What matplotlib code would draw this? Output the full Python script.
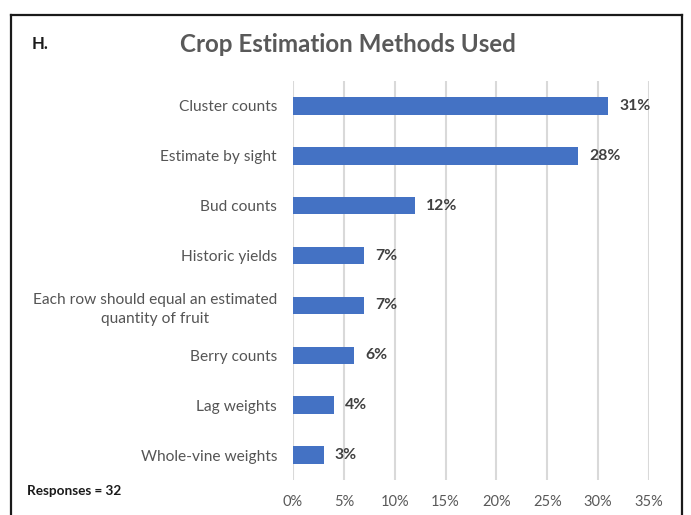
import matplotlib
matplotlib.use("Agg")
import matplotlib.pyplot as plt
from matplotlib.lines import Line2D

plt.rcParams['font.family'] = ['Lato', 'DejaVu Sans']

categories = [
    "Cluster counts",
    "Estimate by sight",
    "Bud counts",
    "Historic yields",
    "Each row should equal an estimated\nquantity of fruit",
    "Berry counts",
    "Lag weights",
    "Whole-vine weights",
]
values = [31, 28, 12, 7, 7, 6, 4, 3]
tick_values = [0, 5, 10, 15, 20, 25, 30, 35]
tick_labels = ["0%", "5%", "10%", "15%", "20%", "25%", "30%", "35%"]

W, H = 691, 515
fig = plt.figure(figsize=(W / 100, H / 100), dpi=100)
fig.patch.set_facecolor("white")

ax = fig.add_axes([293 / W, 1 - 480 / H, (649 - 293) / W, (480 - 81) / H])
ypos = list(range(len(categories)))
ax.barh(ypos, values, height=0.35, color="#4472C4", zorder=3)

for y, v in zip(ypos, values):
    ax.text(v + 1.1, y, f"{v}%", va="center", ha="left",
            fontsize=11.3, fontweight="bold", color="#404040")

ax.set_xlim(0, 35)
ax.set_ylim(len(categories) - 0.5, -0.5)
ax.set_xticks(tick_values)
ax.set_xticklabels(tick_labels, color="#595959", fontsize=10.5)
ax.set_yticks(ypos)
ax.set_yticklabels(categories, color="#555555", fontsize=11.2, ha="right",
                   multialignment="center", linespacing=1.45)
ax.tick_params(axis="both", length=0)
ax.tick_params(axis="x", pad=11)
ax.tick_params(axis="y", pad=11.5)
ax.grid(axis="x", color="#D9D9D9", linewidth=1.5, zorder=0)
for s in ax.spines.values():
    s.set_visible(False)

# frame around the chart (open at the bottom)
fx = lambda px: px / W
fy = lambda py: 1 - py / H
frame = [([fx(11), fx(11)], [fy(520), fy(15)]),
         ([fx(11), fx(682)], [fy(15), fy(15)]),
         ([fx(682), fx(682)], [fy(15), fy(520)])]
for xs, ys in frame:
    fig.add_artist(Line2D(xs, ys, color="#1a1a1a", linewidth=1.6,
                          transform=fig.transFigure))

fig.text(fx(32), fy(44), "H.", fontsize=12, fontweight="bold",
         color="#1a1a1a", ha="left", va="center")
fig.text(fx(348), fy(44), "Crop Estimation Methods Used", fontsize=17.4,
         fontweight="bold", color="#595959", ha="center", va="center")
fig.text(fx(27), fy(491), "Responses = 32", fontsize=9.8, fontweight="bold",
         color="#1a1a1a", ha="left", va="center")

fig.savefig("out.png", dpi=100)
